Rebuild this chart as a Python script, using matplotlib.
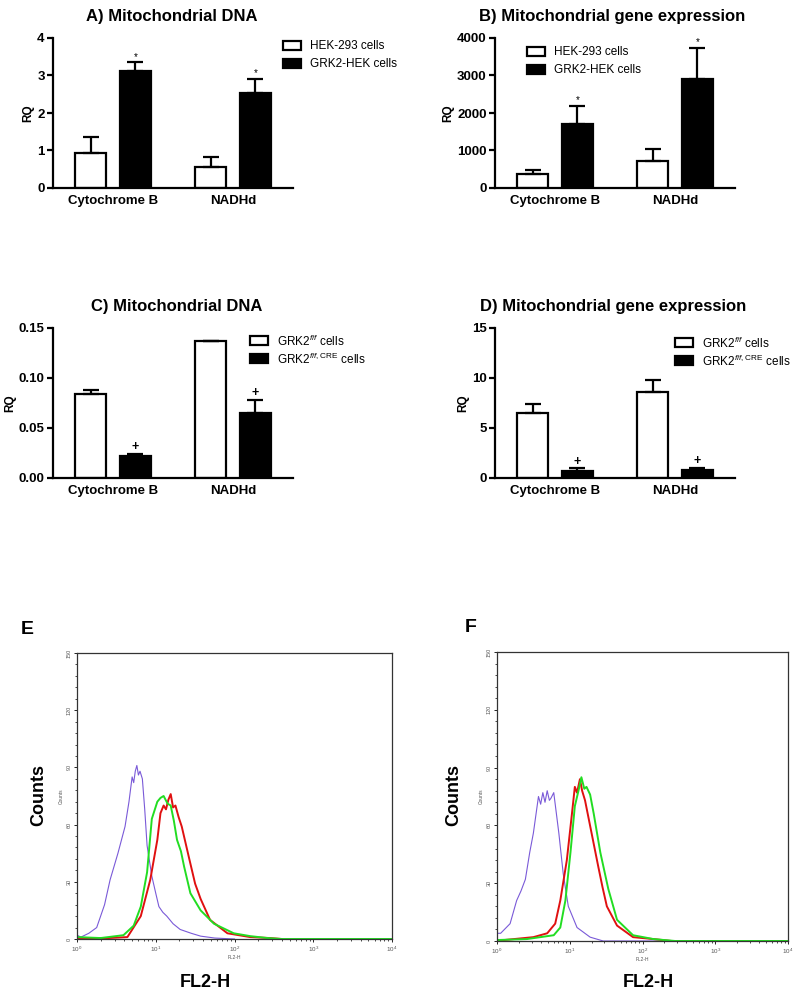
import matplotlib
matplotlib.use("Agg")
import matplotlib.pyplot as plt
import numpy as np
from matplotlib.patches import Rectangle
from matplotlib.ticker import MultipleLocator, LogLocator, NullFormatter, FixedLocator

plt.rcParams['font.family'] = ['Liberation Sans', 'DejaVu Sans']
plt.rcParams['mathtext.fontset'] = 'custom'
plt.rcParams['mathtext.rm'] = 'Liberation Sans'
plt.rcParams['mathtext.it'] = 'Liberation Sans:italic'

# bar chart data
genes = ['Cytochrome B', 'NADHd']

a_hek = [0.92, 0.57]
a_hek_err = [0.43, 0.26]
a_grk = [3.13, 2.52]
a_grk_err = [0.22, 0.38]

b_hek = [360, 710]
b_hek_err = [130, 330]
b_grk = [1710, 2910]
b_grk_err = [470, 830]

c_ff = [0.084, 0.137]
c_ff_err = [0.004, 0.0]
c_cre = [0.022, 0.065]
c_cre_err = [0.002, 0.013]

d_ff = [6.5, 8.6]
d_ff_err = [0.9, 1.2]
d_cre = [0.7, 0.75]
d_cre_err = [0.25, 0.25]

# flow cytometry histograms (log10 FL2-H, counts)
e_purple_x = [0.0, 0.0, 0.05, 0.15, 0.25, 0.35, 0.42, 0.52, 0.61, 0.66, 0.70, 0.72, 0.74, 0.76, 0.78, 0.80, 0.83, 0.86, 0.89, 0.95, 1.0, 1.04, 1.09, 1.14, 1.22, 1.31, 1.45, 1.57, 1.75, 2.0]
e_purple_y = [18, 2, 1, 3, 6, 18, 31, 45, 59, 72, 85, 82, 88, 91, 86, 88, 84, 68, 49, 33, 24, 17, 14, 12, 8, 5, 3, 1.5, 0.5, 0]
e_green_x = [0.0, 0.3, 0.59, 0.72, 0.81, 0.89, 0.95, 1.02, 1.06, 1.10, 1.15, 1.19, 1.23, 1.27, 1.32, 1.36, 1.44, 1.57, 1.74, 1.99, 2.2, 2.42, 2.6, 4.0]
e_green_y = [1, 0.5, 2, 7, 17, 35, 63, 72, 74, 75, 71, 70, 62, 52, 46, 38, 24, 15, 8, 3, 1.5, 0.5, 0, 0]
e_red_x = [0.0, 0.4, 0.64, 0.81, 0.93, 1.02, 1.06, 1.10, 1.13, 1.16, 1.19, 1.22, 1.25, 1.29, 1.33, 1.42, 1.50, 1.57, 1.69, 1.91, 2.2, 2.45, 2.6]
e_red_y = [0.5, 0.5, 1, 12, 31, 52, 66, 70, 68, 73, 76, 69, 70, 64, 59, 43, 29, 21, 10, 3, 1, 0.5, 0]

f_purple_x = [0.0, 0.0, 0.05, 0.18, 0.27, 0.33, 0.39, 0.45, 0.50, 0.57, 0.60, 0.63, 0.66, 0.69, 0.72, 0.74, 0.78, 0.85, 0.91, 0.98, 1.10, 1.28, 1.46, 4.0]
f_purple_y = [30, 4, 4, 9, 21, 26, 32, 46, 56, 75, 71, 77, 72, 78, 73, 74, 77, 56, 35, 18, 7, 2, 0, 0]
f_red_x = [0.0, 0.1, 0.50, 0.69, 0.80, 0.87, 0.96, 1.03, 1.07, 1.10, 1.14, 1.17, 1.21, 1.30, 1.39, 1.45, 1.51, 1.65, 1.87, 2.15, 2.4, 4.0]
f_red_y = [0.5, 0.5, 2, 4, 9, 21, 42, 66, 80, 77, 84, 78, 73, 56, 39, 28, 18, 8, 2, 1, 0, 0]
f_green_x = [0.0, 0.41, 0.78, 0.87, 0.94, 1.01, 1.07, 1.12, 1.16, 1.20, 1.23, 1.28, 1.33, 1.42, 1.53, 1.65, 1.87, 2.15, 2.45, 4.0]
f_green_y = [0.5, 1, 3, 7, 21, 46, 70, 78, 85, 79, 80, 76, 66, 46, 27, 11, 3, 1, 0, 0]

W, H = 800, 996
fig = plt.figure(figsize=(W / 100, H / 100), dpi=100)


def box(left, top, width, height):
    return [left / W, 1 - (top + height) / H, width / W, height / H]


def ftext(x, y, s, **kw):
    fig.text(x / W, 1 - y / H, s, **kw)


def bar_panel(left, top, title, tx, ty, white, werr, black, berr, ymax, ystep,
              yfmt, labels, legend_xy, mark):
    ax = fig.add_axes(box(left, top, 240, 150))
    pos = np.arange(len(genes)) * 3.87
    ax.bar(pos, white, width=1, color='white', edgecolor='black', linewidth=1.6, zorder=2)
    ax.bar(pos + 1.45, black, width=1, color='black', edgecolor='black', linewidth=1.6, zorder=2)
    for xs, v, e in [(pos, white, werr), (pos + 1.45, black, berr)]:
        ax.errorbar(xs, v, yerr=[np.zeros(len(e)), e], fmt='none', ecolor='black',
                    elinewidth=1.6, capsize=6, capthick=1.6, zorder=3)
    for xs, v, e in zip(pos + 1.45, black, berr):
        ax.text(xs, v + e + ymax * 0.005, mark, ha='center', va='bottom',
                fontsize=7 if mark == '*' else 9, fontweight='normal' if mark == '*' else 'bold')
    ax.set_xlim(-1.21, 6.53)
    ax.set_ylim(0, ymax)
    ax.set_yticks(np.arange(0, ymax + ystep / 2, ystep))
    ax.set_yticklabels([yfmt.format(v) for v in np.arange(0, ymax + ystep / 2, ystep)],
                       fontsize=9.5, fontweight='bold')
    ax.set_xticks(pos + 0.725)
    ax.set_xticklabels(genes, fontsize=9.5, fontweight='bold')
    ax.tick_params(axis='x', length=0, pad=5)
    ax.tick_params(axis='y', length=4, width=1.6, pad=2)
    for s in ['top', 'right']:
        ax.spines[s].set_visible(False)
    for s in ['left', 'bottom']:
        ax.spines[s].set_linewidth(1.6)
    ax.set_ylabel('RQ', fontsize=8.5, fontweight='bold', labelpad=2)
    ftext(tx, ty, title, ha='center', va='center', fontsize=12, fontweight='bold')
    lx, ly = legend_xy
    for i, (fc, lab) in enumerate(zip(['white', 'black'], labels)):
        fig.patches.append(Rectangle(((lx) / W, 1 - (ly + i * 18 + 4) / H), 18 / W, 9 / H,
                                     transform=fig.transFigure, facecolor=fc,
                                     edgecolor='black', linewidth=1.6))
        ftext(lx + 27, ly + i * 18, lab, ha='left', va='center', fontsize=8.5)
    return ax


bar_panel(53, 38, 'A) Mitochondrial DNA', 172, 16, a_hek, a_hek_err, a_grk, a_grk_err,
          4, 1, '{:.0f}', ['HEK-293 cells', 'GRK2-HEK cells'], (283, 46), '*')
bar_panel(495, 38, 'B) Mitochondrial gene expression', 612, 16, b_hek, b_hek_err, b_grk, b_grk_err,
          4000, 1000, '{:.0f}', ['HEK-293 cells', 'GRK2-HEK cells'], (527, 52), '*')
ff_labels = [r'GRK2$^{\mathit{f/f}}$ cells', r'GRK2$^{\mathit{f/f},\mathrm{CRE}}$ cells']
bar_panel(53, 328, 'C) Mitochondrial DNA', 177, 306, c_ff, c_ff_err, c_cre, c_cre_err,
          0.15, 0.05, '{:.2f}', ff_labels, (250, 341), '+')
bar_panel(495, 328, 'D) Mitochondrial gene expression', 613, 306, d_ff, d_ff_err, d_cre, d_cre_err,
          15, 5, '{:.0f}', ff_labels, (675, 343), '+')


def hist_panel(left, top, width, height, letter, lpos, counts_x, fl_x, curves):
    ax = fig.add_axes(box(left, top, width, height))
    for xs, ys, col, lw in curves:
        ax.plot(10 ** np.array(xs), ys, color=col, linewidth=lw)
    ax.set_xscale('log')
    ax.set_xlim(1, 1e4)
    ax.set_ylim(0, 150)
    ax.set_yticks([0, 30, 60, 90, 120, 150])
    ax.set_yticklabels(['0', '30', '60', '90', '120', '150'], fontsize=4, rotation=90,
                       va='center', color='#555555')
    ax.yaxis.set_minor_locator(MultipleLocator(6))
    ax.xaxis.set_major_locator(FixedLocator([1, 10, 100, 1000, 10000]))
    ax.set_xticklabels(['$10^0$', '$10^1$', '$10^2$', '$10^3$', '$10^4$'], fontsize=4.5, color='#555555')
    ax.xaxis.set_minor_locator(LogLocator(base=10, subs=np.arange(2, 10)))
    ax.xaxis.set_minor_formatter(NullFormatter())
    ax.tick_params(which='major', length=2.5, width=0.6, pad=1.5)
    ax.tick_params(which='minor', length=1.2, width=0.5)
    for s in ax.spines.values():
        s.set_linewidth(0.9)
        s.set_color('#333333')
    ax.set_ylabel('Counts', fontsize=3.5, labelpad=2, color='#555555')
    ax.set_xlabel('FL2-H', fontsize=3.5, labelpad=0.5, color='#555555')
    ftext(lpos[0], lpos[1], letter, ha='left', va='center', fontsize=14, fontweight='bold')
    ftext(counts_x, 795, 'Counts', ha='center', va='center', rotation=90,
          fontsize=13, fontweight='bold')
    ftext(fl_x, 982, 'FL2-H', ha='center', va='center', fontsize=13, fontweight='bold')


purple, red, green = '#7a5ad8', '#e01010', '#22dd22'
hist_panel(77, 653, 315, 286, 'E', (21, 629), 39, 205,
           [(e_purple_x, e_purple_y, purple, 0.8), (e_red_x, e_red_y, red, 1.4),
            (e_green_x, e_green_y, green, 1.4)])
hist_panel(497, 652, 291, 289, 'F', (465, 627), 454, 648,
           [(f_purple_x, f_purple_y, purple, 0.8), (f_red_x, f_red_y, red, 1.4),
            (f_green_x, f_green_y, green, 1.4)])

fig.savefig('out.png', dpi=100)
